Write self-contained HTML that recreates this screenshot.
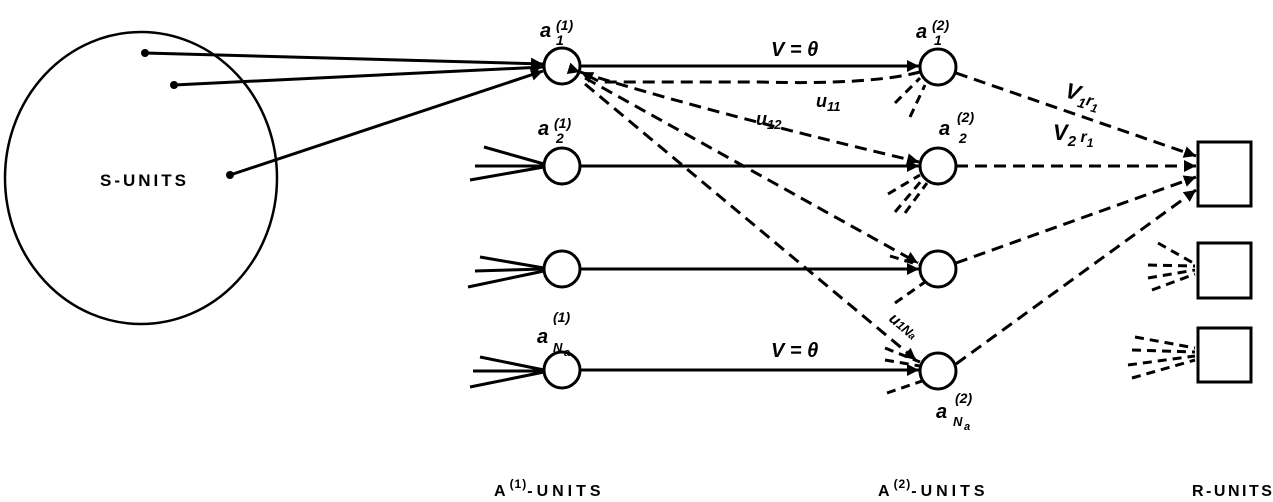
<!DOCTYPE html>
<html><head><style>
html,body{margin:0;padding:0;background:#fff;}
svg{display:block;}
text{font-family:"Liberation Sans",sans-serif;font-weight:bold;fill:#000;}
.it{font-style:italic;}
</style></head><body>
<svg width="1273" height="502" viewBox="0 0 1273 502" xmlns="http://www.w3.org/2000/svg">
<defs>
<marker id="arb" viewBox="0 0 10 10" refX="10" refY="5" markerWidth="12" markerHeight="12" orient="auto" markerUnits="userSpaceOnUse"><path d="M0,0 L10,5 L0,10 z" fill="#000"/></marker>
</defs>
<g fill="none" stroke="#000" stroke-width="3">
<ellipse cx="141" cy="178" rx="136" ry="146" stroke-width="2.5"/>
<line x1="145" y1="53" x2="543" y2="64" marker-end="url(#arb)"/>
<line x1="174" y1="85" x2="543" y2="67" marker-end="url(#arb)"/>
<line x1="230" y1="175" x2="543" y2="71" marker-end="url(#arb)"/>
<circle cx="562" cy="66" r="18"/>
<circle cx="562" cy="166" r="18"/>
<circle cx="562" cy="269" r="18"/>
<circle cx="562" cy="370" r="18"/>
<circle cx="938" cy="67" r="18"/>
<circle cx="938" cy="166" r="18"/>
<circle cx="938" cy="269" r="18"/>
<circle cx="938" cy="371" r="18"/>
<rect x="1198" y="142" width="53" height="64" stroke-width="3"/>
<rect x="1198" y="243" width="53" height="55"/>
<rect x="1198" y="328" width="53" height="54"/>
<line x1="484" y1="147" x2="544" y2="164"/><line x1="475" y1="166" x2="544" y2="166"/><line x1="470" y1="180" x2="544" y2="167"/>
<line x1="480" y1="257" x2="544" y2="268"/><line x1="475" y1="271" x2="544" y2="269"/><line x1="468" y1="287" x2="544" y2="271"/>
<line x1="480" y1="357" x2="544" y2="370"/><line x1="473" y1="371" x2="544" y2="371"/><line x1="470" y1="387" x2="544" y2="372"/>
<line x1="580" y1="66" x2="919" y2="66" marker-end="url(#arb)"/>
<line x1="580" y1="166" x2="919" y2="166" marker-end="url(#arb)"/>
<line x1="580" y1="269" x2="919" y2="269" marker-end="url(#arb)"/>
<line x1="580" y1="370" x2="919" y2="370" marker-end="url(#arb)"/>
</g>
<g fill="none" stroke="#000" stroke-width="3" stroke-dasharray="12,7">
<path d="M920,72 Q870,85 760,82 L600,82 L581,72" marker-end="url(#arb)"/>
<path d="M580,72 Q700,110 919,162" marker-start="url(#arb)" marker-end="url(#arb)"/>
<line x1="585" y1="78" x2="918" y2="263" marker-end="url(#arb)"/>
<line x1="585" y1="84" x2="916" y2="360" marker-end="url(#arb)"/>
<line x1="956" y1="73" x2="1196" y2="156" marker-end="url(#arb)"/>
<line x1="956" y1="166" x2="1196" y2="166" marker-end="url(#arb)"/>
<line x1="956" y1="263" x2="1196" y2="177" marker-end="url(#arb)"/>
<line x1="956" y1="364" x2="1196" y2="190" marker-end="url(#arb)"/>
<g stroke-dasharray="9,6">
<line x1="895" y1="103" x2="920" y2="78"/><line x1="910" y1="117" x2="925" y2="85"/>
<line x1="888" y1="194" x2="920" y2="175"/><line x1="895" y1="212" x2="922" y2="180"/><line x1="905" y1="213" x2="927" y2="183"/>
<line x1="890" y1="256" x2="920" y2="265"/><line x1="895" y1="303" x2="925" y2="282"/>
<line x1="885" y1="348" x2="920" y2="362"/><line x1="885" y1="360" x2="920" y2="366"/><line x1="887" y1="393" x2="925" y2="380"/>
<line x1="1158" y1="243" x2="1195" y2="264"/><line x1="1148" y1="265" x2="1195" y2="266"/><line x1="1148" y1="278" x2="1195" y2="270"/><line x1="1152" y1="290" x2="1195" y2="274"/>
<line x1="1135" y1="337" x2="1195" y2="348"/><line x1="1132" y1="350" x2="1195" y2="352"/><line x1="1128" y1="365" x2="1195" y2="356"/><line x1="1132" y1="378" x2="1195" y2="360"/>
</g>
</g>
<circle cx="145" cy="53" r="4"/><circle cx="174" cy="85" r="4"/><circle cx="230" cy="175" r="4"/>
<text x="100" y="186" font-size="17" letter-spacing="3">S-UNITS</text>
<g class="it" font-size="20">
<text x="540" y="37" class="it">a</text><text x="556" y="30" font-size="14" class="it">(1)</text><text x="556" y="45" font-size="14" class="it">1</text>
<text x="538" y="135" class="it">a</text><text x="554" y="128" font-size="14" class="it">(1)</text><text x="556" y="143" font-size="14" class="it">2</text>
<text x="537" y="343" class="it">a</text><text x="553" y="322" font-size="14" class="it">(1)</text><text x="553" y="352" font-size="13" class="it">N</text><text x="564" y="356" font-size="11" class="it">a</text>
<text x="916" y="38" class="it">a</text><text x="932" y="30" font-size="14" class="it">(2)</text><text x="934" y="45" font-size="14" class="it">1</text>
<text x="939" y="135" class="it">a</text><text x="957" y="122" font-size="14" class="it">(2)</text><text x="959" y="143" font-size="14" class="it">2</text>
<text x="936" y="418" class="it">a</text><text x="955" y="403" font-size="14" class="it">(2)</text><text x="953" y="426" font-size="13" class="it">N</text><text x="964" y="430" font-size="11" class="it">a</text>
<text x="771" y="56" class="it">V = θ</text>
<text x="771" y="357" class="it">V = θ</text>
<text x="816" y="107" class="it" font-size="18">u<tspan font-size="13" dy="4">11</tspan></text>
<text x="756" y="125" class="it" font-size="18">u<tspan font-size="13" dy="4">12</tspan></text>
<text x="888" y="320" class="it" font-size="16" transform="rotate(40 888 320)">u<tspan font-size="12">1</tspan><tspan font-size="13">N</tspan><tspan font-size="10">a</tspan></text>
<text x="1064" y="97" class="it" font-size="22" transform="rotate(15 1064 97)">V<tspan font-size="14" dy="6">1</tspan><tspan font-size="16" dy="-4">r</tspan><tspan font-size="12" dy="5">1</tspan></text>
<text x="1053" y="140" class="it" font-size="22">V<tspan font-size="15" dy="6">2</tspan><tspan font-size="16" dy="-4"> r</tspan><tspan font-size="12" dy="5">1</tspan></text>
</g>
<text x="494" y="496" font-size="16" letter-spacing="4">A<tspan font-size="12" dy="-8" letter-spacing="1">(1)</tspan><tspan dy="8">-UNITS</tspan></text>
<text x="878" y="496" font-size="16" letter-spacing="4">A<tspan font-size="12" dy="-8" letter-spacing="1">(2)</tspan><tspan dy="8">-UNITS</tspan></text>
<text x="1192" y="496" font-size="16" letter-spacing="2.5">R-UNITS</text>
</svg>
</body></html>
